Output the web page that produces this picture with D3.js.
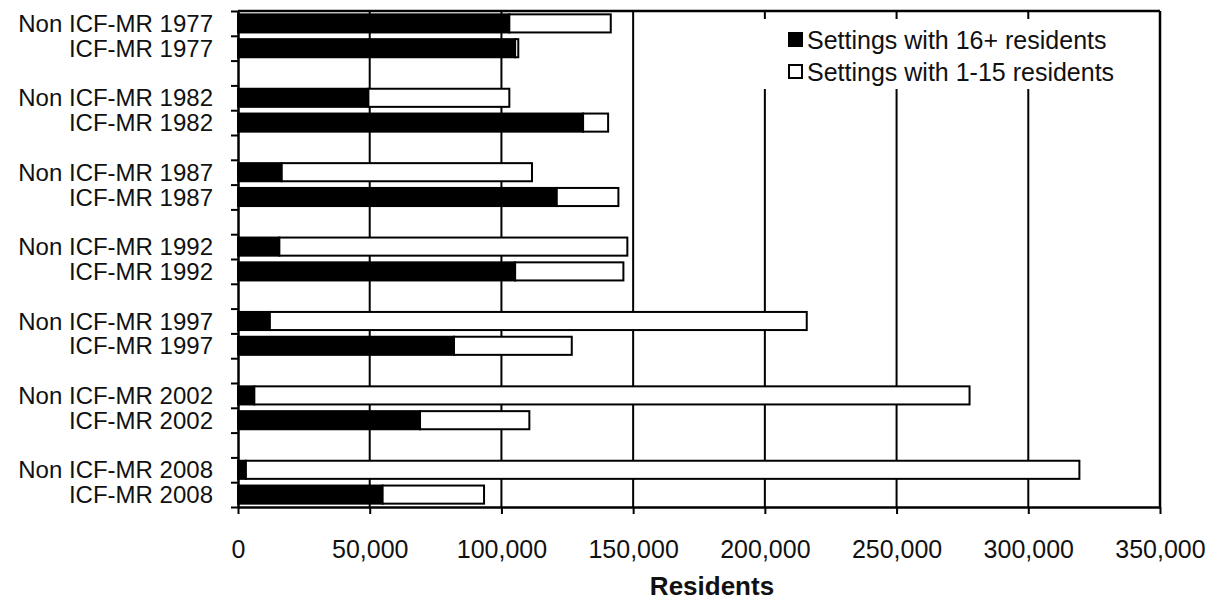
<!DOCTYPE html>
<html>
<head>
<meta charset="utf-8">
<script src="https://cdn.jsdelivr.net/npm/d3@7"></script>
<style>
  html, body { margin: 0; padding: 0; background: #fff; }
  svg { display: block; font-family: "Liberation Sans", Arial, sans-serif; }
</style>
</head>
<body>
<svg id="chart" width="1215" height="602"></svg>
<script>
// ---- Data ----
const categories = [
  "Non ICF-MR 1977", "ICF-MR 1977",
  "Non ICF-MR 1982", "ICF-MR 1982",
  "Non ICF-MR 1987", "ICF-MR 1987",
  "Non ICF-MR 1992", "ICF-MR 1992",
  "Non ICF-MR 1997", "ICF-MR 1997",
  "Non ICF-MR 2002", "ICF-MR 2002",
  "Non ICF-MR 2008", "ICF-MR 2008"
];
const large = [103000, 105200, 49500, 131000, 16600, 121000, 15700, 105200, 12100, 82000, 6200, 69100, 3000, 54900];
const small = [38500, 1200, 53500, 9500, 95000, 23400, 132100, 41100, 203800, 44700, 271500, 41500, 316400, 38500];
const seriesNames = ["Settings with 16+ residents", "Settings with 1-15 residents"];
const xTicks = [0, 50000, 100000, 150000, 200000, 250000, 300000, 350000];
const xTitle = "Residents";

// ---- Layout ----
const L = 238, R = 1160, T = 11, B = 507;
const FS = 25;
const svg = d3.select("#chart");

// slots: two categories then a blank slot per group
const slots = [];
categories.forEach((c, i) => {
  slots.push(c);
  if (i % 2 === 1 && i < categories.length - 1) slots.push("__gap" + i);
});

const x = d3.scaleLinear().domain([0, 350000]).range([L, R]);
const y = d3.scaleBand().domain(slots).range([T, B]).paddingInner(0.27).paddingOuter(0.135);
const yEdge = d3.scaleLinear().domain([0, slots.length]).range([T, B]);

// gridlines
svg.append("g").selectAll("line").data(xTicks.slice(1, -1)).join("line")
  .attr("x1", d => x(d)).attr("x2", d => x(d))
  .attr("y1", T).attr("y2", B)
  .attr("stroke", "#000").attr("stroke-width", 2);

// legend background
svg.append("rect").attr("x", 755).attr("y", 19).attr("width", 395).attr("height", 70).attr("fill", "#fff");

// stacked bars
const rows = categories.map((c, i) => ({ cat: c, large: large[i], small: small[i] }));
const stack = d3.stack().keys(["large", "small"])(rows);
const fills = ["#000", "#fff"];
svg.append("g").selectAll("g").data(stack).join("g")
  .attr("fill", (d, i) => fills[i])
  .attr("stroke", "#000").attr("stroke-width", 2)
  .selectAll("rect").data(d => d).join("rect")
  .attr("x", d => x(d[0]))
  .attr("width", d => x(d[1]) - x(d[0]))
  .attr("y", d => y(d.data.cat))
  .attr("height", y.bandwidth());

// left axis: boundary ticks
const leftAxis = svg.append("g").attr("transform", `translate(${L},0)`)
  .call(d3.axisLeft(yEdge).tickValues(d3.range(slots.length + 1)).tickFormat("").tickSize(7).tickSizeOuter(0));
leftAxis.select(".domain").attr("stroke-width", 2.5);
leftAxis.selectAll(".tick line").attr("stroke-width", 2);

// left labels
svg.append("g").selectAll("text").data(categories).join("text")
  .attr("x", 213)
  .attr("y", d => y(d) + y.bandwidth() / 2)
  .attr("dy", "0.36em")
  .attr("text-anchor", "end")
  .attr("font-size", 24)
  .attr("fill", "#111")
  .text(d => d);

// bottom axis
const bottomAxis = svg.append("g").attr("transform", `translate(0,${B})`)
  .call(d3.axisBottom(x).tickValues(xTicks).tickFormat(d3.format(",")).tickSize(7).tickSizeOuter(0));
bottomAxis.select(".domain").attr("stroke-width", 2.5);
bottomAxis.selectAll(".tick line").attr("stroke-width", 2);
bottomAxis.selectAll(".tick text")
  .attr("font-size", FS).attr("font-family", "Liberation Sans, Arial, sans-serif")
  .attr("fill", "#111").attr("y", 0).attr("dy", "51");

// top and right borders
svg.append("line").attr("x1", L).attr("x2", R).attr("y1", T).attr("y2", T).attr("stroke", "#000").attr("stroke-width", 2.5);
svg.append("line").attr("x1", R).attr("x2", R).attr("y1", T).attr("y2", B).attr("stroke", "#000").attr("stroke-width", 2.5);

// axis title
svg.append("text").attr("x", 712).attr("y", 595).attr("text-anchor", "middle")
  .attr("font-size", 26).attr("font-weight", "bold").attr("fill", "#111").text(xTitle);

// legend
const leg = svg.append("g");
seriesNames.forEach((name, i) => {
  const yy = 33 + i * 32;
  leg.append("rect").attr("x", 789).attr("y", yy).attr("width", 13).attr("height", 13)
    .attr("fill", fills[i]).attr("stroke", "#000").attr("stroke-width", 2);
  leg.append("text").attr("x", 807).attr("y", yy + 7).attr("dy", "0.36em")
    .attr("font-size", FS).attr("fill", "#111").text(name);
});
</script>
</body>
</html>
